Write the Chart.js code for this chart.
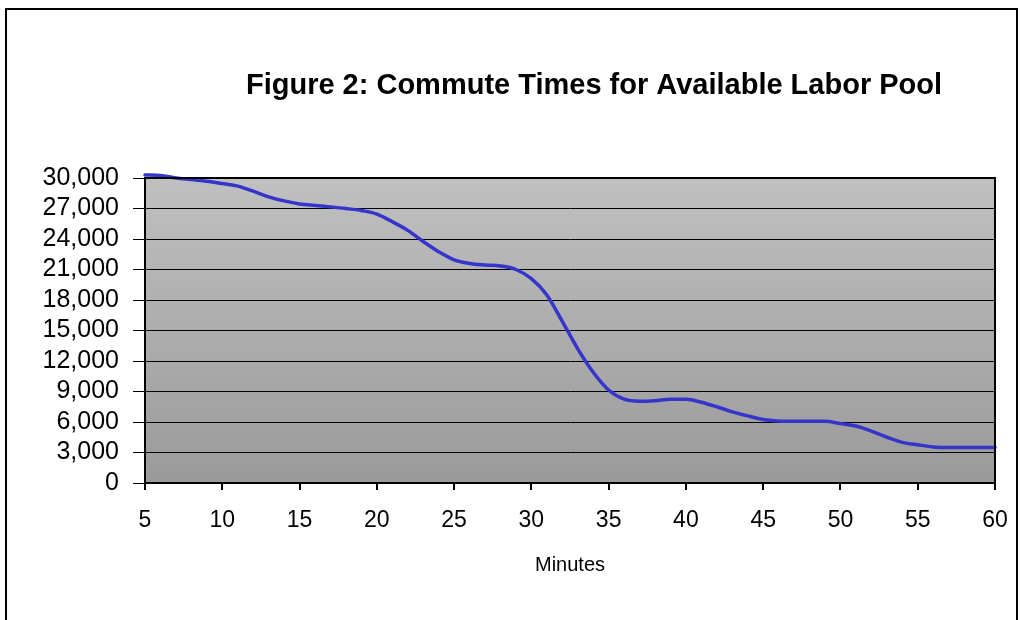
<!DOCTYPE html>
<html>
<head>
<meta charset="utf-8">
<script src="https://cdn.jsdelivr.net/npm/chart.js@4/dist/chart.umd.min.js"></script>
<style>
  html, body { margin: 0; padding: 0; background: #ffffff; }
  #wrap { position: relative; width: 1020px; height: 620px; }
</style>
</head>
<body>
<div id="wrap"><canvas id="c" width="1020" height="620"></canvas></div>
<script>
// ---- data ----
const chartTitle = "Figure 2: Commute Times for Available Labor Pool";
const xAxisTitle = "Minutes";
const minutes = [5,6,7,8,9,10,11,12,13,14,15,16,17,18,19,20,21,22,23,24,25,26,27,28,29,30,31,32,33,34,35,36,37,38,39,40,41,42,43,44,45,46,47,48,49,50,51,52,53,54,55,56,57,58,59,60];
const workers = [30300,30250,30000,29850,29680,29450,29200,28700,28150,27750,27450,27300,27160,27000,26800,26450,25700,24850,23750,22750,21950,21600,21450,21350,21000,20100,18500,15900,13200,10900,9150,8250,8050,8100,8230,8230,7950,7500,7000,6600,6250,6100,6070,6070,6070,5840,5600,5100,4500,4000,3760,3550,3500,3500,3500,3500];
const xTickValues = [5,10,15,20,25,30,35,40,45,50,55,60];
const yTickValues = [0,3000,6000,9000,12000,15000,18000,21000,24000,27000,30000];

const FONT = "'Liberation Sans', Arial, sans-serif";

const decor = {
  id: 'decor',
  beforeDraw(chart) {
    const { ctx, chartArea: a } = chart;
    ctx.save();
    const g = ctx.createLinearGradient(0, a.top, 0, a.bottom);
    g.addColorStop(0, '#c0c0c0');
    g.addColorStop(1, '#9a9a9a');
    ctx.fillStyle = g;
    ctx.fillRect(a.left, a.top, a.right - a.left, a.bottom - a.top);
    // outer frame
    ctx.strokeStyle = '#000';
    ctx.lineWidth = 2;
    ctx.strokeRect(6, 9, 1011, 640);
    // title
    ctx.fillStyle = '#000';
    ctx.font = "bold 29px " + FONT;
    ctx.textAlign = 'center';
    ctx.textBaseline = 'middle';
    ctx.fillText(chartTitle, 594, 86);
    ctx.restore();
  },
  afterDatasetsDraw(chart) {
    const { ctx, chartArea: a } = chart;
    ctx.save();
    ctx.strokeStyle = '#000';
    ctx.lineWidth = 2;
    ctx.beginPath();
    ctx.moveTo(a.left, a.top); ctx.lineTo(a.right, a.top); ctx.lineTo(a.right, a.bottom);
    ctx.stroke();
    ctx.restore();
  }
};

new Chart(document.getElementById('c'), {
  type: 'line',
  data: {
    datasets: [{
      data: minutes.map((m, i) => ({ x: m, y: workers[i] })),
      borderColor: '#3535cc',
      borderWidth: 3.5,
      borderCapStyle: 'round',
      pointRadius: 0,
      cubicInterpolationMode: 'monotone',
      fill: false,
      clip: false
    }]
  },
  options: {
    responsive: false,
    animation: false,
    layout: { padding: { left: 0, right: 25, top: 178, bottom: 0 } },
    plugins: { legend: { display: false }, tooltip: { enabled: false }, title: { display: false } },
    scales: {
      x: {
        type: 'linear',
        min: 5, max: 60,
        afterBuildTicks: s => { s.ticks = xTickValues.map(v => ({ value: v })); },
        afterFit: s => { s.height = 137; s.paddingLeft = 0; s.paddingRight = 0; },
        grid: { drawOnChartArea: false, drawTicks: true, tickLength: 7, color: '#000', lineWidth: 2 },
        border: { color: '#000', width: 2 },
        ticks: { color: '#000', font: { family: FONT, size: 23 }, padding: 17, maxRotation: 0, autoSkip: false },
        title: { display: true, text: xAxisTitle, color: '#000', font: { family: FONT, size: 20 }, padding: { top: 0, bottom: 43 } }
      },
      y: {
        min: 0, max: 30000,
        afterBuildTicks: s => { s.ticks = yTickValues.map(v => ({ value: v })); },
        afterFit: s => { s.width = 145; },
        grid: { drawOnChartArea: true, drawTicks: true, tickLength: 12, color: '#000', lineWidth: 1 },
        border: { color: '#000', width: 2 },
        ticks: { color: '#000', font: { family: FONT, size: 25 }, padding: 14, autoSkip: false,
                 callback: v => v.toLocaleString('en-US') }
      }
    }
  },
  plugins: [decor]
});
</script>
</body>
</html>
